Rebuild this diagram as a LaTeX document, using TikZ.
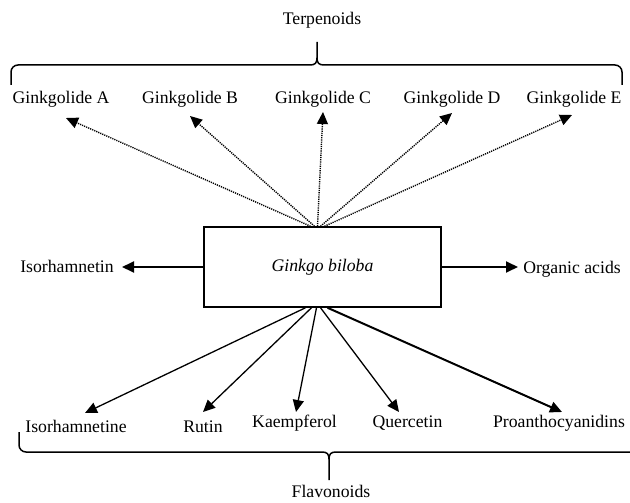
\documentclass[tikz,border=0pt]{standalone}
\usepackage{fontspec}
\setmainfont{Liberation Serif}
\usetikzlibrary{arrows.meta}
\tikzset{
  lbl/.style={font=\fontsize{17.7}{20}\selectfont, inner sep=0pt, anchor=base},
  tip/.style={-{Triangle[length=12pt,width=11pt]}},
  dotarrow/.style={tip, line width=1.4pt, dash pattern=on 1.2pt off 1pt},
  sidearrow/.style={tip, line width=1.8pt},
  botarrow/.style={tip, line width=1.3pt},
  brace/.style={line width=1.5pt, line join=round}
}
\begin{document}
\begin{tikzpicture}[x=1pt,y=-1pt]
\useasboundingbox (0,0) rectangle (630,503);
% central box
\node[draw, line width=1.5pt, minimum width=237pt, minimum height=80pt, inner sep=0pt,
      font=\fontsize{17.7}{20}\selectfont\itshape] (box) at (322.5,267) {Ginkgo biloba};
% top group
\node[lbl] (terp) at (322,25) {Terpenoids};
\node[lbl] (gA) at (61,103) {Ginkgolide A};
\node[lbl] (gB) at (190,103) {Ginkgolide B};
\node[lbl] (gC) at (323,103) {Ginkgolide C};
\node[lbl] (gD) at (452,103) {Ginkgolide D};
\node[lbl] (gE) at (574,103) {Ginkgolide E};
% side labels
\node[lbl] (iso) at (67,272) {Isorhamnetin};
\node[lbl] (org) at (572,273) {Organic acids};
% bottom group
\node[lbl] (fIso) at (76,432) {Isorhamnetine};
\node[lbl] (fRut) at (203,432) {Rutin};
\node[lbl] (fKae) at (294.5,427) {Kaempferol};
\node[lbl] (fQue) at (407.5,427) {Quercetin};
\node[lbl] (fPro) at (559,427) {Proanthocyanidins};
\node[lbl] (flav) at (331,497) {Flavonoids};
% arrow tip coordinates
\coordinate (tA) at (66,118);
\coordinate (tB) at (190,116);
\coordinate (tC) at (323,112);
\coordinate (tD) at (452,113);
\coordinate (tE) at (572,115);
\coordinate (tIsoL) at (122,267);
\coordinate (tOrg) at (518,267);
\coordinate (tIso) at (85,413);
\coordinate (tRut) at (203,412);
\coordinate (tKae) at (296,412);
\coordinate (tQue) at (399,412);
\coordinate (tPro) at (562,412);
% dotted arrows
\draw[dotarrow] ([xshift=-12pt]box.north) -- (tA);
\draw[dotarrow] ([xshift=-8pt]box.north) -- (tB);
\draw[dotarrow] ([xshift=-5pt]box.north) -- (tC);
\draw[dotarrow] ([xshift=-2pt]box.north) -- (tD);
\draw[dotarrow] ([xshift=2pt]box.north) -- (tE);
% side arrows
\draw[sidearrow] (box.west) -- (tIsoL);
\draw[sidearrow] (box.east) -- (tOrg);
% bottom arrows
\draw[botarrow] ([xshift=-17pt]box.south) -- (tIso);
\draw[botarrow] ([xshift=-11pt]box.south) -- (tRut);
\draw[botarrow] ([xshift=-6pt]box.south) -- (tKae);
\draw[botarrow] ([xshift=-2pt]box.south) -- (tQue);
\draw[tip, line width=2pt] ([xshift=5pt]box.south) -- (tPro);
% top brace
\draw[brace] (11,85) -- (11,72) arc[start angle=180, end angle=270, radius=7] -- (310,65)
  .. controls (315,65) and (317,63) .. (317,58) -- (317,42);
\draw[brace] (317,58) .. controls (317,63) and (319,65) .. (324,65) -- (615,65)
  arc[start angle=-90, end angle=0, radius=7] -- (622,85);
% bottom brace
\draw[brace] (19,432) -- (19,445) arc[start angle=180, end angle=90, radius=7] -- (322,452)
  .. controls (327,452) and (329,454) .. (329,459) -- (329,480);
\draw[brace] (329,459) .. controls (329,454) and (331,452) .. (336,452) -- (630,452);
\end{tikzpicture}
\end{document}
